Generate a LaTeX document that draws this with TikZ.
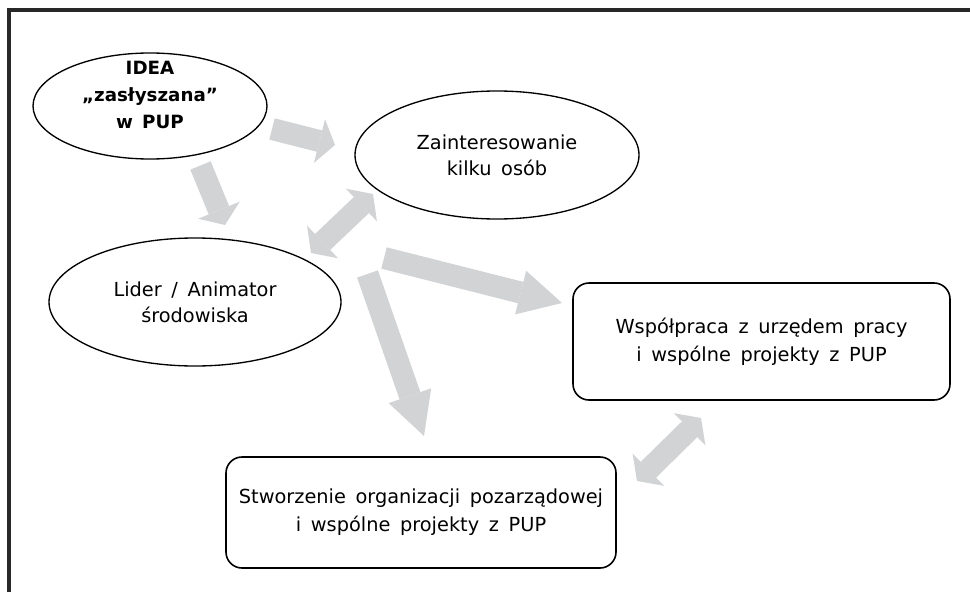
\documentclass[tikz,border=0pt]{standalone}
\usepackage{fontspec}
\setmainfont{DejaVu Sans}
\usetikzlibrary{shapes.geometric,arrows.meta}

\definecolor{arrowgray}{RGB}{209,211,212}
\definecolor{framegray}{RGB}{40,40,40}
\newcommand{\widegaps}{\spaceskip=0.5em plus 0.1em\relax}

\tikzset{
  oval/.style={ellipse,draw,line width=1pt,inner sep=0pt},
  roundbox/.style={rectangle,rounded corners=12pt,draw,line width=1.2pt,inner sep=0pt},
  caption/.style={align=center,font=\fontsize{14.5}{19.5}\selectfont\widegaps},
  boxcaption/.style={align=center,font=\fontsize{14.5}{21}\selectfont\widegaps},
  ideacaption/.style={align=center,font=\bfseries\fontsize{13.7}{20}\selectfont\widegaps},
  bigarrow/.style={draw=arrowgray,line width=16.5pt,-{Triangle[width=33.75pt,length=12pt,line width=0pt]}},
  longarrow/.style={draw=arrowgray,line width=16.5pt,-{Triangle[width=33.75pt,length=32pt,line width=0pt]}},
  bothways/.style={draw=arrowgray,line width=16.5pt,{Triangle[width=33.75pt,length=12pt,line width=0pt]}-{Triangle[width=33.75pt,length=12pt,line width=0pt]}}
}

\begin{document}
\begin{tikzpicture}[x=0.75pt,y=-0.75pt]
\useasboundingbox (0,0) rectangle (970,592);
\fill[white] (0,0) rectangle (970,592);
\draw[framegray,line width=2.5pt] (9,592) -- (9,10) -- (970,10);

\node[oval,minimum width=175.5pt,minimum height=79.5pt] (idea) at (150,106) {};
\node[ideacaption] (ideatext) at (150,95) {IDEA\\„zasłyszana”\\w PUP};
\node[oval,caption,minimum width=213pt,minimum height=96pt] (zain) at (497,155) {Zainteresowanie\\kilku osób};
\node[oval,caption,minimum width=219pt,minimum height=96pt] (lider) at (195,302) {Lider / Animator\\środowiska};
\node[roundbox,boxcaption,minimum width=282.75pt,minimum height=87.75pt] (wspol) at (761.5,341.5) {Współpraca z urzędem pracy\\i wspólne projekty z PUP};
\node[roundbox,boxcaption,minimum width=292.5pt,minimum height=83.25pt] (ngo) at (421,512.5) {Stworzenie organizacji pozarządowej\\i wspólne projekty z PUP};

\coordinate (iz1) at (272,129);   \coordinate (iz2) at (335,145);
\coordinate (il1) at (200.5,165.5); \coordinate (il2) at (225,225);
\coordinate (lz1) at (311,253);   \coordinate (lz2) at (373,194);
\coordinate (lw1) at (384,258);   \coordinate (lw2) at (562,303);
\coordinate (ln1) at (367.5,274); \coordinate (ln2) at (424,436);
\coordinate (nw1) at (637,481);   \coordinate (nw2) at (701,418);

\draw[bigarrow] (iz1) -- (iz2);
\draw[bigarrow] (il1) -- (il2);
\draw[bothways] (lz1) -- (lz2);
\draw[longarrow] (lw1) -- (lw2);
\draw[longarrow] (ln1) -- (ln2);
\draw[bothways] (nw1) -- (nw2);
\end{tikzpicture}
\end{document}
